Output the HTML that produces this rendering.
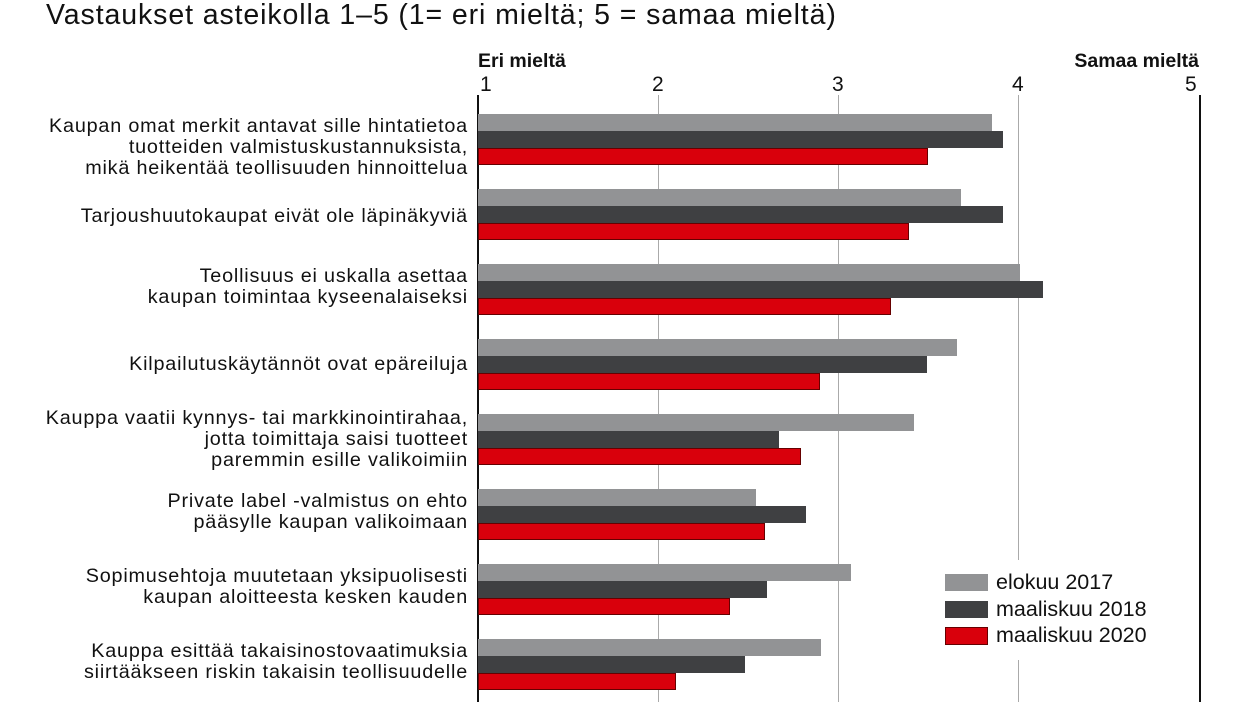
<!DOCTYPE html><html><head><style>
body{margin:0;background:#fff;width:1248px;height:702px;overflow:hidden;position:relative;font-family:"Liberation Sans",sans-serif;color:#111}
.a{position:absolute}
.t{left:46px;top:-1px;font-size:28.5px;white-space:nowrap;letter-spacing:0.9px}
.lab{right:780px;text-align:right;font-size:19.8px;line-height:21px;white-space:nowrap;letter-spacing:0.8px}
.g{width:1px;background:#aaa;top:95px;height:607px}
.b{height:17px;left:478px}
.c1{background:#929395}.c2{background:#3f4042}.c3{background:#d9000c;border:1px solid #600;box-sizing:border-box}
.tk{font-size:21px;top:73px}
</style></head><body>
<div class="a t">Vastaukset asteikolla 1–5 (1= eri mieltä; 5 = samaa mieltä)</div>
<div class="a" style="left:478px;top:50px;font-size:19.5px;font-weight:bold">Eri mieltä</div>
<div class="a" style="right:49px;top:50px;font-size:19.5px;font-weight:bold">Samaa mieltä</div>
<div class="a tk" style="left:480px">1</div><div class="a tk" style="left:652px">2</div><div class="a tk" style="left:832px">3</div><div class="a tk" style="left:1012px">4</div><div class="a tk" style="left:1185px">5</div>
<div class="a g" style="left:658px"></div><div class="a g" style="left:838px"></div><div class="a g" style="left:1018px"></div>
<div class="a" style="left:477px;top:95px;width:2px;height:607px;background:#111"></div>
<div class="a" style="left:1199px;top:95px;width:2px;height:607px;background:#111"></div>

<div class="a b c1" style="top:114px;width:514px"></div><div class="a b c2" style="top:131px;width:525px"></div><div class="a b c3" style="top:148px;width:450px"></div>
<div class="a b c1" style="top:189px;width:483px"></div><div class="a b c2" style="top:206px;width:525px"></div><div class="a b c3" style="top:223px;width:431px"></div>
<div class="a b c1" style="top:264px;width:542px"></div><div class="a b c2" style="top:281px;width:565px"></div><div class="a b c3" style="top:298px;width:413px"></div>
<div class="a b c1" style="top:339px;width:479px"></div><div class="a b c2" style="top:356px;width:449px"></div><div class="a b c3" style="top:373px;width:342px"></div>
<div class="a b c1" style="top:414px;width:436px"></div><div class="a b c2" style="top:431px;width:301px"></div><div class="a b c3" style="top:448px;width:323px"></div>
<div class="a b c1" style="top:489px;width:278px"></div><div class="a b c2" style="top:506px;width:328px"></div><div class="a b c3" style="top:523px;width:287px"></div>
<div class="a b c1" style="top:564px;width:373px"></div><div class="a b c2" style="top:581px;width:289px"></div><div class="a b c3" style="top:598px;width:252px"></div>
<div class="a b c1" style="top:639px;width:343px"></div><div class="a b c2" style="top:656px;width:267px"></div><div class="a b c3" style="top:673px;width:198px"></div>

<div class="a lab" style="top:116px">Kaupan omat merkit antavat sille hintatietoa<br>tuotteiden valmistuskustannuksista,<br>mikä heikentää teollisuuden hinnoittelua</div>
<div class="a lab" style="top:206px">Tarjoushuutokaupat eivät ole läpinäkyviä</div>
<div class="a lab" style="top:266px">Teollisuus ei uskalla asettaa<br>kaupan toimintaa kyseenalaiseksi</div>
<div class="a lab" style="top:354px">Kilpailutuskäytännöt ovat epäreiluja</div>
<div class="a lab" style="top:408px">Kauppa vaatii kynnys- tai markkinointirahaa,<br>jotta toimittaja saisi tuotteet<br>paremmin esille valikoimiin</div>
<div class="a lab" style="top:491px">Private label -valmistus on ehto<br>pääsylle kaupan valikoimaan</div>
<div class="a lab" style="top:566px">Sopimusehtoja muutetaan yksipuolisesti<br>kaupan aloitteesta kesken kauden</div>
<div class="a lab" style="top:641px">Kauppa esittää takaisinostovaatimuksia<br>siirtääkseen riskin takaisin teollisuudelle</div>

<div class="a" style="left:930px;top:560px;width:240px;height:100px;background:#fff"></div>
<div class="a c1" style="left:945px;top:574px;width:43px;height:17px"></div>
<div class="a c2" style="left:945px;top:601px;width:43px;height:17px"></div>
<div class="a c3" style="left:945px;top:627px;width:43px;height:18px"></div>
<div class="a" style="left:996px;top:569px;font-size:21.5px;line-height:26.5px">elokuu 2017<br>maaliskuu 2018<br>maaliskuu 2020</div>
</body></html>
